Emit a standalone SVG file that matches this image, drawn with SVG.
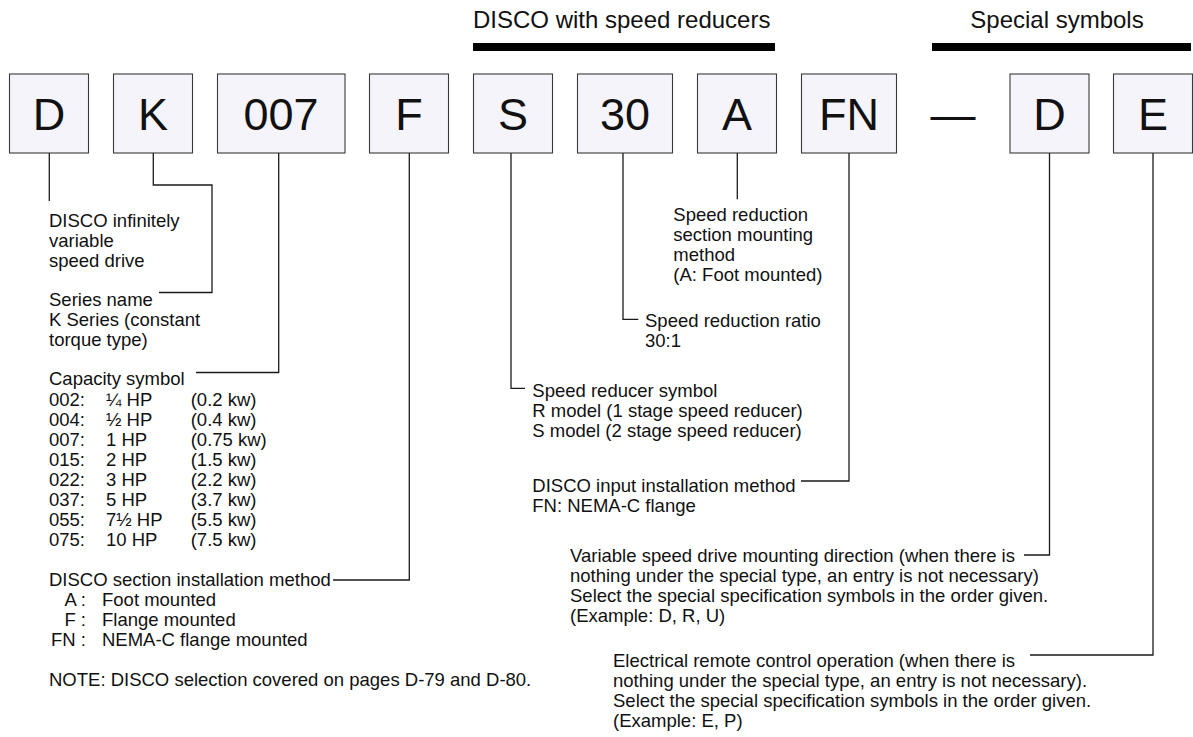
<svg xmlns="http://www.w3.org/2000/svg" width="1193" height="737" viewBox="0 0 1193 737">
<style>
.box{fill:#f5f4fa;stroke:#3a3a3a;stroke-width:1.1}
.code{font-family:"Liberation Sans",Arial,sans-serif;font-size:45px;fill:#111;text-anchor:middle}
.hdr{font-family:"Liberation Sans",Arial,sans-serif;font-size:24px;fill:#111}
.t{font-family:"Liberation Sans",Arial,sans-serif;font-size:18.5px;fill:#111}
.bar{fill:#000}
.conn{fill:none;stroke:#1a1a1a;stroke-width:1.3}
</style>
<rect width="1193" height="737" fill="#fff"/>
<g id="headers">
<text class="hdr" x="473" y="28">DISCO with speed reducers</text>
<rect class="bar" x="473" y="43" width="302" height="8"/>
<text class="hdr" x="1057" y="28" text-anchor="middle">Special symbols</text>
<rect class="bar" x="932" y="43" width="259" height="8"/>
</g>
<g id="node-D"><rect class="box" x="9.5" y="74" width="79" height="79"/><text class="code" x="49" y="130">D</text></g>
<g id="node-K"><rect class="box" x="113.5" y="74" width="79" height="79"/><text class="code" x="153" y="130">K</text></g>
<g id="node-007"><rect class="box" x="217.5" y="74" width="127.5" height="79"/><text class="code" x="281" y="130">007</text></g>
<g id="node-F"><rect class="box" x="369.5" y="74" width="79" height="79"/><text class="code" x="409" y="130">F</text></g>
<g id="node-S"><rect class="box" x="473.5" y="74" width="79" height="79"/><text class="code" x="513" y="130">S</text></g>
<g id="node-30"><rect class="box" x="577.5" y="74" width="95" height="79"/><text class="code" x="625" y="130">30</text></g>
<g id="node-A"><rect class="box" x="697.5" y="74" width="79" height="79"/><text class="code" x="737" y="130">A</text></g>
<g id="node-FN"><rect class="box" x="801.5" y="74" width="95" height="79"/><text class="code" x="849" y="130">FN</text></g>
<g id="dash"><text class="code" x="953" y="130">—</text></g>
<g id="node-D2"><rect class="box" x="1010" y="74" width="79" height="79"/><text class="code" x="1049.5" y="130">D</text></g>
<g id="node-E"><rect class="box" x="1113.5" y="74" width="79" height="79"/><text class="code" x="1153" y="130">E</text></g>
<g id="connectors">
<path class="conn" d="M49.3 153V201"/>
<path class="conn" d="M153.3 153V185H212V292.5H159"/>
<path class="conn" d="M278.7 153V372.5H196"/>
<path class="conn" d="M409.3 153V580H333"/>
<path class="conn" d="M511 153V388.3H525"/>
<path class="conn" d="M623 153V319.3H638.3"/>
<path class="conn" d="M737.3 153V199.3"/>
<path class="conn" d="M849 153V481H801"/>
<path class="conn" d="M1049.5 153V555H1024"/>
<path class="conn" d="M1153 153V655H1030"/>
</g>
<g id="label-D">
<text class="t" x="49" y="227">DISCO infinitely</text>
<text class="t" x="49" y="247">variable</text>
<text class="t" x="49" y="267">speed drive</text>
</g>
<g id="label-K">
<text class="t" x="49" y="306">Series name</text>
<text class="t" x="49" y="326">K Series (constant</text>
<text class="t" x="49" y="346">torque type)</text>
</g>
<g id="label-007">
<text class="t" x="49" y="385">Capacity symbol</text>
<text class="t" y="406"><tspan x="49">002:</tspan><tspan x="106">¼ HP</tspan><tspan x="190.7">(0.2 kw)</tspan></text>
<text class="t" y="426"><tspan x="49">004:</tspan><tspan x="106">½ HP</tspan><tspan x="190.7">(0.4 kw)</tspan></text>
<text class="t" y="446"><tspan x="49">007:</tspan><tspan x="106">1 HP</tspan><tspan x="190.7">(0.75 kw)</tspan></text>
<text class="t" y="466"><tspan x="49">015:</tspan><tspan x="106">2 HP</tspan><tspan x="190.7">(1.5 kw)</tspan></text>
<text class="t" y="486"><tspan x="49">022:</tspan><tspan x="106">3 HP</tspan><tspan x="190.7">(2.2 kw)</tspan></text>
<text class="t" y="506"><tspan x="49">037:</tspan><tspan x="106">5 HP</tspan><tspan x="190.7">(3.7 kw)</tspan></text>
<text class="t" y="526"><tspan x="49">055:</tspan><tspan x="106">7½ HP</tspan><tspan x="190.7">(5.5 kw)</tspan></text>
<text class="t" y="546"><tspan x="49">075:</tspan><tspan x="106">10 HP</tspan><tspan x="190.7">(7.5 kw)</tspan></text>
</g>
<g id="label-F">
<text class="t" x="49" y="586">DISCO section installation method</text>
<text class="t" x="86" y="606" text-anchor="end">A :</text><text class="t" x="102" y="606">Foot mounted</text>
<text class="t" x="86" y="626" text-anchor="end">F :</text><text class="t" x="102" y="626">Flange mounted</text>
<text class="t" x="86" y="646" text-anchor="end">FN :</text><text class="t" x="102" y="646">NEMA-C flange mounted</text>
</g>
<g id="note">
<text class="t" x="49" y="686">NOTE: DISCO selection covered on pages D-79 and D-80.</text>
</g>
<g id="label-A">
<text class="t" x="673.3" y="221">Speed reduction</text>
<text class="t" x="673.3" y="241">section mounting</text>
<text class="t" x="673.3" y="261">method</text>
<text class="t" x="673.3" y="281">(A: Foot mounted)</text>
</g>
<g id="label-30">
<text class="t" x="645" y="327">Speed reduction ratio</text>
<text class="t" x="645" y="347">30:1</text>
</g>
<g id="label-S">
<text class="t" x="532.3" y="397">Speed reducer symbol</text>
<text class="t" x="532.3" y="417">R model (1 stage speed reducer)</text>
<text class="t" x="532.3" y="437">S model (2 stage speed reducer)</text>
</g>
<g id="label-FN">
<text class="t" x="532.3" y="492">DISCO input installation method</text>
<text class="t" x="532.3" y="512">FN: NEMA-C flange</text>
</g>
<g id="label-D2">
<text class="t" x="570" y="562">Variable speed drive mounting direction (when there is</text>
<text class="t" x="570" y="582">nothing under the special type, an entry is not necessary)</text>
<text class="t" x="570" y="602">Select the special specification symbols in the order given.</text>
<text class="t" x="570" y="622">(Example: D, R, U)</text>
</g>
<g id="label-E">
<text class="t" x="613" y="667">Electrical remote control operation (when there is</text>
<text class="t" x="613" y="687">nothing under the special type, an entry is not necessary).</text>
<text class="t" x="613" y="707">Select the special specification symbols in the order given.</text>
<text class="t" x="613" y="727">(Example: E, P)</text>
</g>
</svg>
